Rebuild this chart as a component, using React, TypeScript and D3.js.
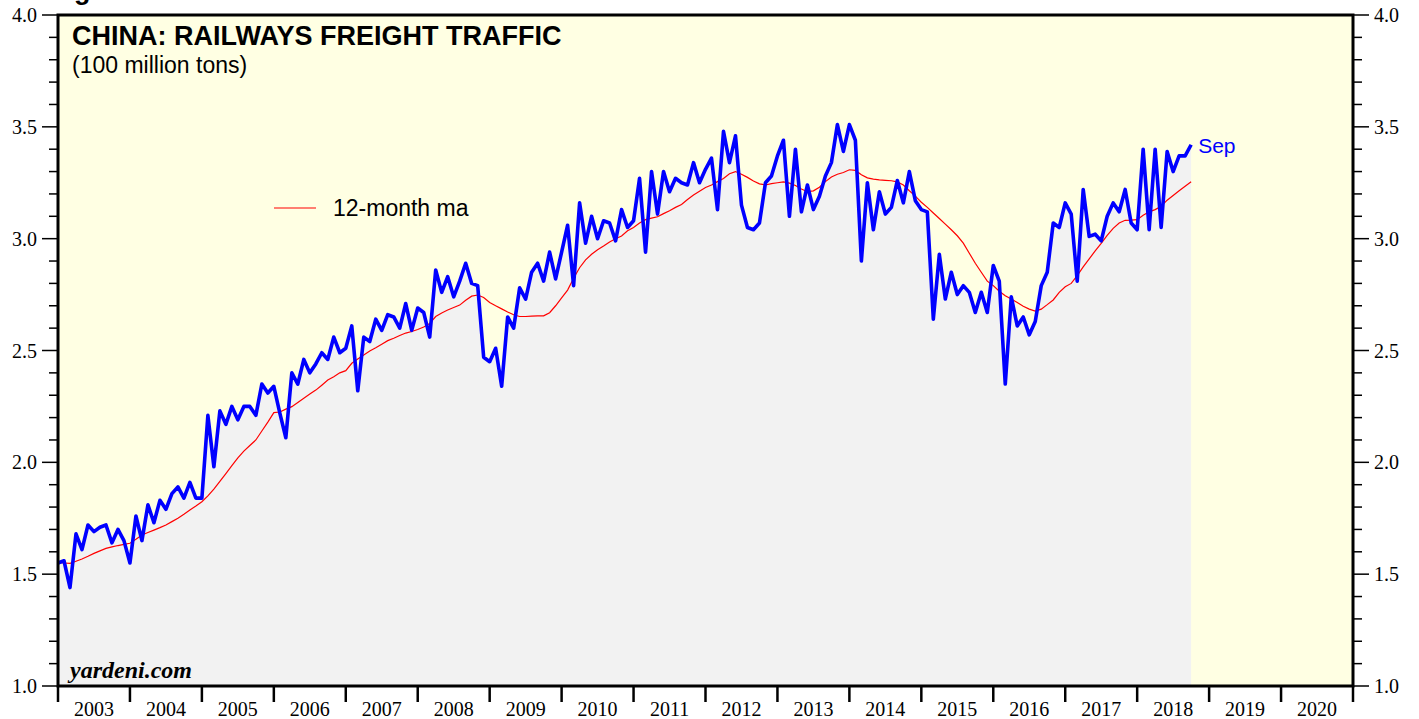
import React from "react";
import * as d3 from "d3";

// Monthly freight traffic (100 million tons), first value = Dec 2002, then Jan 2003 ... Sep 2018
const freight: number[] = [
  1.55,
  1.56, 1.44, 1.68, 1.61, 1.72, 1.69, 1.71, 1.72, 1.64, 1.70, 1.65, 1.55, // 2003
  1.76, 1.65, 1.81, 1.73, 1.83, 1.79, 1.86, 1.89, 1.84, 1.91, 1.84, 1.84, // 2004
  2.21, 1.98, 2.23, 2.17, 2.25, 2.19, 2.25, 2.25, 2.21, 2.35, 2.31, 2.34, // 2005
  2.22, 2.11, 2.40, 2.35, 2.46, 2.40, 2.44, 2.49, 2.46, 2.56, 2.49, 2.51, // 2006
  2.61, 2.32, 2.56, 2.54, 2.64, 2.59, 2.66, 2.65, 2.60, 2.71, 2.59, 2.69, // 2007
  2.67, 2.56, 2.86, 2.76, 2.83, 2.74, 2.81, 2.89, 2.80, 2.79, 2.47, 2.45, // 2008
  2.51, 2.34, 2.65, 2.60, 2.78, 2.73, 2.85, 2.89, 2.81, 2.94, 2.82, 2.94, // 2009
  3.06, 2.79, 3.16, 2.98, 3.10, 3.00, 3.08, 3.07, 2.99, 3.13, 3.05, 3.08, // 2010
  3.27, 2.94, 3.30, 3.11, 3.30, 3.21, 3.27, 3.25, 3.24, 3.34, 3.25, 3.31, // 2011
  3.36, 3.13, 3.48, 3.34, 3.46, 3.15, 3.05, 3.04, 3.07, 3.25, 3.28, 3.37, // 2012
  3.44, 3.10, 3.40, 3.12, 3.24, 3.13, 3.19, 3.28, 3.34, 3.51, 3.39, 3.51, // 2013
  3.44, 2.90, 3.25, 3.04, 3.21, 3.11, 3.14, 3.26, 3.16, 3.30, 3.17, 3.13, // 2014
  3.12, 2.64, 2.93, 2.73, 2.85, 2.75, 2.79, 2.76, 2.67, 2.76, 2.67, 2.88, // 2015
  2.81, 2.35, 2.74, 2.61, 2.65, 2.57, 2.63, 2.79, 2.85, 3.07, 3.05, 3.16, // 2016
  3.11, 2.81, 3.22, 3.01, 3.02, 2.99, 3.10, 3.16, 3.12, 3.22, 3.07, 3.04, // 2017
  3.40, 3.04, 3.40, 3.05, 3.39, 3.30, 3.37, 3.37, 3.42, // 2018 (to Sep)
];

// 12-month moving average, same months
const movingAvg: number[] = [
  1.551,
  1.55, 1.548, 1.558, 1.568, 1.58, 1.593, 1.604, 1.615, 1.622, 1.628, 1.633, 1.638,
  1.656, 1.675, 1.686, 1.697, 1.708, 1.72, 1.735, 1.75, 1.768, 1.787, 1.805, 1.824,
  1.85, 1.88, 1.915, 1.95, 1.985, 2.02, 2.05, 2.075, 2.10, 2.14, 2.18, 2.222,
  2.225, 2.238, 2.249, 2.268, 2.287, 2.305, 2.323, 2.345, 2.368, 2.383, 2.40, 2.41,
  2.443, 2.462, 2.48, 2.498, 2.512, 2.528, 2.544, 2.555, 2.567, 2.578, 2.585, 2.594,
  2.605, 2.621, 2.652, 2.668, 2.681, 2.692, 2.703, 2.725, 2.743, 2.748, 2.737, 2.715,
  2.70, 2.686, 2.672, 2.66, 2.652, 2.652, 2.654, 2.655, 2.655, 2.669, 2.70, 2.735,
  2.77, 2.823, 2.87, 2.905, 2.93, 2.95, 2.967, 2.985, 3.0, 3.012, 3.035, 3.05,
  3.07, 3.085, 3.092, 3.098, 3.112, 3.125, 3.14, 3.153, 3.175, 3.195, 3.212, 3.229,
  3.24, 3.255, 3.269, 3.29, 3.30, 3.288, 3.274, 3.258, 3.245, 3.24, 3.246, 3.25,
  3.254, 3.248, 3.238, 3.222, 3.21, 3.214, 3.23, 3.255, 3.276, 3.288, 3.296, 3.308,
  3.305, 3.286, 3.272, 3.266, 3.263, 3.261, 3.259, 3.254, 3.24, 3.214, 3.19, 3.163,
  3.14, 3.115, 3.09, 3.065, 3.04, 3.013, 2.98, 2.935, 2.89, 2.85, 2.81, 2.79,
  2.765, 2.745, 2.73, 2.715, 2.698, 2.685, 2.676, 2.685, 2.705, 2.726, 2.76, 2.785,
  2.80, 2.835, 2.874, 2.91, 2.945, 2.979, 3.015, 3.046, 3.07, 3.082, 3.083, 3.085,
  3.105, 3.12, 3.13, 3.145, 3.172, 3.193, 3.214, 3.234, 3.254,
];

const years: number[] = d3.range(2003, 2021);
const yMajorTicks: number[] = [1.0, 1.5, 2.0, 2.5, 3.0, 3.5, 4.0];
const yMinorTicks: number[] = d3.range(10, 41).map((v) => v / 10);

const W = 1419;
const H = 719;
const L = 58;
const R = 1353;
const T = 15;
const B = 686;

const SERIF = "'Liberation Serif', 'Times New Roman', serif";
const SANS = "'Liberation Sans', Arial, Helvetica, sans-serif";

export default function App() {
  const x = d3.scaleLinear().domain([2003, 2021]).range([L, R]);
  const y = d3.scaleLinear().domain([1, 4]).range([B, T]);
  const t = (i: number) => 2003 + i / 12;

  const line = d3
    .line<number>()
    .x((_, i) => x(t(i)))
    .y((d) => y(d));
  const area = d3
    .area<number>()
    .x((_, i) => x(t(i)))
    .y0(y(1))
    .y1((d) => y(d));

  const lastI = freight.length - 1;

  return (
    <svg
      width={W}
      height={H}
      style={{ position: "absolute", left: 0, top: 0, background: "#fff" }}
    >
      <text x={50} y={-1} fontFamily={SANS} fontWeight="bold" fontSize={27} fill="#000">
        Figure
      </text>
      <rect x={L} y={T} width={R - L} height={B - T} fill="#ffffe3" />
      <path d={area(freight) ?? ""} fill="#f2f2f2" />

      {/* title */}
      <text x={72} y={45} fontFamily={SANS} fontWeight="bold" fontSize={27} fill="#000">
        CHINA: RAILWAYS FREIGHT TRAFFIC
      </text>
      <text x={72} y={73} fontFamily={SANS} fontSize={23} fill="#000">
        (100 million tons)
      </text>

      {/* legend */}
      <line x1={274} x2={316} y1={208} y2={208} stroke="#ff0000" strokeWidth={1.2} />
      <text x={333} y={216} fontFamily={SANS} fontSize={23} fill="#000">
        12-month ma
      </text>

      <path d={line(movingAvg) ?? ""} fill="none" stroke="#ff0000" strokeWidth={1.2} />
      <path
        d={line(freight) ?? ""}
        fill="none"
        stroke="#0000ff"
        strokeWidth={3.6}
        strokeLinejoin="round"
      />
      <text
        x={x(t(lastI)) + 7}
        y={y(freight[lastI]) + 8}
        fontFamily={SANS}
        fontSize={21}
        fill="#0000ff"
      >
        Sep
      </text>

      <text x={70} y={678} fontFamily={SERIF} fontStyle="italic" fontWeight="bold" fontSize={24} fill="#000">
        yardeni.com
      </text>

      {/* y ticks */}
      {yMinorTicks.map((v) => {
        const major = Math.abs(v * 2 - Math.round(v * 2)) < 1e-6;
        const len = major ? 16 : 9;
        return (
          <g key={v}>
            <line x1={L - len} x2={L} y1={y(v)} y2={y(v)} stroke="#000" strokeWidth={1.5} />
            <line x1={R} x2={R + len} y1={y(v)} y2={y(v)} stroke="#000" strokeWidth={1.5} />
          </g>
        );
      })}
      {yMajorTicks.map((v) => (
        <g key={"l" + v}>
          <text x={37} y={y(v) + 7} textAnchor="end" fontFamily={SERIF} fontSize={20} fill="#000">
            {v.toFixed(1)}
          </text>
          <text x={1374} y={y(v) + 7} textAnchor="start" fontFamily={SERIF} fontSize={20} fill="#000">
            {v.toFixed(1)}
          </text>
        </g>
      ))}

      {/* x ticks */}
      {[...years, 2021].map((yr) => (
        <line key={"t" + yr} x1={x(yr)} x2={x(yr)} y1={B} y2={B + 16} stroke="#000" strokeWidth={2.5} />
      ))}
      {years.map((yr) => (
        <text
          key={"y" + yr}
          x={x(yr + 0.5)}
          y={716}
          textAnchor="middle"
          fontFamily={SERIF}
          fontSize={20}
          fill="#000"
        >
          {yr}
        </text>
      ))}

      <rect x={L} y={T} width={R - L} height={B - T} fill="none" stroke="#000" strokeWidth={3} />
    </svg>
  );
}
